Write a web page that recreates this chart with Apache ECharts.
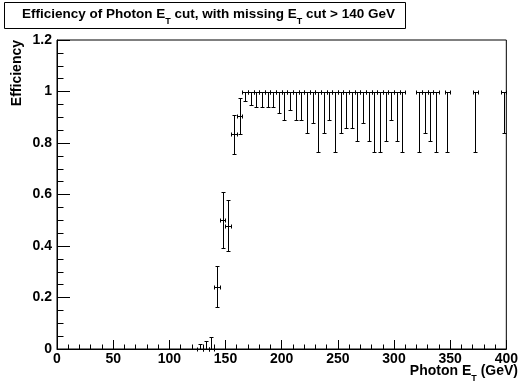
<!DOCTYPE html>
<html><head><meta charset="utf-8">
<script src="https://cdn.jsdelivr.net/npm/echarts@6/dist/echarts.min.js"></script>
<style>html,body{margin:0;padding:0;background:#fff}#c{width:521px;height:385px}</style>
</head><body><div id="c"></div>
<script>
// Photon E_T bin centres (GeV), bin width 5 GeV
const binCenters = [127.5, 132.5, 137.5, 142.5, 147.5, 152.5, 157.5, 162.5,
  167.5, 172.5, 177.5, 182.5, 187.5, 192.5, 197.5, 202.5, 207.5, 212.5,
  217.5, 222.5, 227.5, 232.5, 237.5, 242.5, 247.5, 252.5, 257.5, 262.5,
  267.5, 272.5, 277.5, 282.5, 287.5, 292.5, 297.5, 302.5, 307.5,
  322.5, 327.5, 332.5, 337.5, 347.5, 372.5, 397.5];
const binWidth = [5];
const efficiency = [0, 0, 0, 0.24, 0.501, 0.479, 0.834, 0.904,
  1, 1, 1, 1, 1, 1, 1, 1, 1, 1,
  1, 1, 1, 1, 1, 1, 1, 1, 1, 1,
  1, 1, 1, 1, 1, 1, 1, 1, 1,
  1, 1, 1, 1, 1, 1, 1];
const errLow = [0, 0, 0, 0.075, 0.11, 0.097, 0.076, 0.068,
  0.038, 0.051, 0.062, 0.059, 0.062, 0.059, 0.082, 0.109, 0.072, 0.109,
  0.109, 0.161, 0.122, 0.235, 0.161, 0.109, 0.235, 0.161, 0.142, 0.142,
  0.194, 0.122, 0.194, 0.235, 0.235, 0.194, 0.109, 0.194, 0.235,
  0.235, 0.161, 0.194, 0.235, 0.235, 0.235, 0.161];
const errHigh = [0.02, 0.03, 0.045, 0.083, 0.108, 0.098, 0.076, 0.069,
  0, 0, 0, 0, 0, 0, 0, 0, 0, 0,
  0, 0, 0, 0, 0, 0, 0, 0, 0, 0,
  0, 0, 0, 0, 0, 0, 0, 0, 0,
  0, 0, 0, 0, 0, 0, 0];
const xRange = [0, 400];
const yRange = [0, 1.2];
const titleText = 'Efficiency of Photon E{sub|T} cut, with missing E{sub|T} cut > 140 GeV';
const xTitle = 'Photon E{sub|T} (GeV)';
const yTitle = 'Efficiency';

const FONT = '"Liberation Sans", Arial, Helvetica, sans-serif';
function makeRich(size) {
  return {
    n: {fontSize: size, fontWeight: 'bold', fontFamily: FONT, lineHeight: 14, verticalAlign: 'middle'},
    sub: {fontSize: 9, fontWeight: 'bold', fontFamily: FONT, lineHeight: 24, verticalAlign: 'bottom'}
  };
}
function richify(s) {
  return s.split(/(\{sub\|T\})/).filter(p => p.length).map(p => p.startsWith('{sub') ? p : '{n|' + p + '}').join('');
}

const data = binCenters.map((x, i) => [x, efficiency[i], errLow[i], errHigh[i], binWidth[0] / 2]);

const chart = echarts.init(document.getElementById('c'), null, {renderer: 'canvas'});
const axisCommon = {
  axisLine: {show: true, lineStyle: {color: '#000', width: 1}},
  splitLine: {show: false},
  axisLabel: {color: '#000', fontWeight: 'bold', fontSize: 14, fontFamily: FONT}
};
chart.setOption({
  animation: false,
  backgroundColor: '#fff',
  grid: {left: 57, right: 11, top: 40, bottom: 36, show: true, borderColor: '#000', borderWidth: 1, backgroundColor: 'transparent'},
  xAxis: Object.assign({}, axisCommon, {
    type: 'value', min: xRange[0], max: xRange[1], interval: 50,
    axisTick: {show: true, inside: true, length: 9, lineStyle: {color: '#000'}},
    minorTick: {show: true, splitNumber: 5, length: 4.5, lineStyle: {color: '#000'}},
    axisLabel: Object.assign({}, axisCommon.axisLabel, {margin: 3})
  }),
  yAxis: Object.assign({}, axisCommon, {
    type: 'value', min: yRange[0], max: yRange[1], interval: 0.2,
    axisTick: {show: true, inside: true, length: 13, lineStyle: {color: '#000'}},
    minorTick: {show: true, splitNumber: 4, length: 6.5, lineStyle: {color: '#000'}},
    axisLabel: Object.assign({}, axisCommon.axisLabel, {margin: 5})
  }),
  series: [{
    type: 'custom',
    data: data,
    encode: {x: 0, y: 1},
    clip: false,
    renderItem: function (params, api) {
      const x = api.value(0), y = api.value(1), lo = api.value(2), hi = api.value(3), hw = api.value(4);
      const snap = v => Math.round(v) + 0.5;
      const c = api.coord([x, y]);
      const cx = snap(c[0]), cy = snap(c[1]);
      const xl = snap(api.coord([x - hw, y])[0]);
      const xr = snap(api.coord([x + hw, y])[0]);
      const st = {stroke: '#000', lineWidth: 1};
      const cap = 2;
      const ch = [
        {type: 'line', shape: {x1: xl, y1: cy, x2: xr, y2: cy}, style: st},
        {type: 'line', shape: {x1: xl, y1: cy - cap, x2: xl, y2: cy + cap}, style: st},
        {type: 'line', shape: {x1: xr, y1: cy - cap, x2: xr, y2: cy + cap}, style: st}
      ];
      if (hi > 0) {
        const yt = snap(api.coord([x, y + hi])[1]);
        ch.push({type: 'line', shape: {x1: cx, y1: cy, x2: cx, y2: yt}, style: st});
        ch.push({type: 'line', shape: {x1: cx - cap, y1: yt, x2: cx + cap, y2: yt}, style: st});
      }
      if (lo > 0) {
        const yb = snap(api.coord([x, y - lo])[1]);
        ch.push({type: 'line', shape: {x1: cx, y1: cy, x2: cx, y2: yb}, style: st});
        ch.push({type: 'line', shape: {x1: cx - cap, y1: yb, x2: cx + cap, y2: yb}, style: st});
      }
      return {type: 'group', children: ch};
    }
  }],
  graphic: [
    {type: 'rect', left: 4, top: 2, shape: {width: 401, height: 26}, style: {fill: '#fff', stroke: '#000', lineWidth: 1}, z: 10},
    {type: 'text', x: 22, y: 14, z: 11, style: {text: richify(titleText), rich: makeRich(13.5), align: 'left', verticalAlign: 'middle', fill: '#000'}},
    {type: 'text', x: 518, y: 371, z: 11, style: {text: richify(xTitle), rich: makeRich(14), align: 'right', verticalAlign: 'middle', fill: '#000'}},
    {type: 'text', x: 17, y: 40, rotation: Math.PI / 2, z: 11, style: {text: yTitle, font: 'bold 14px ' + FONT, align: 'right', verticalAlign: 'middle', fill: '#000'}}
  ]
});
</script>
</body></html>
